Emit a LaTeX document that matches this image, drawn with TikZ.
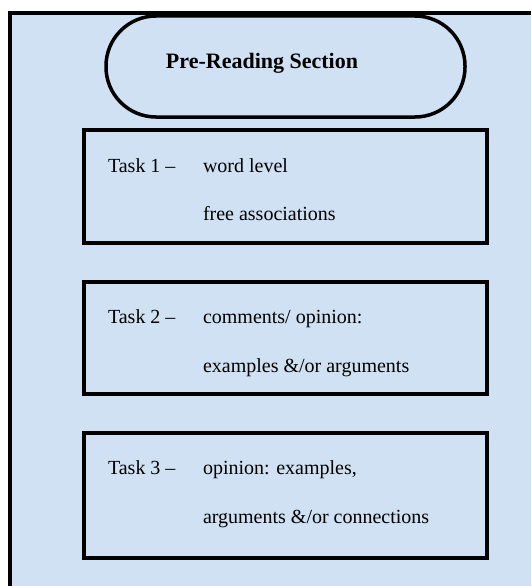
\documentclass[tikz,border=0pt]{standalone}
\usepackage{fontspec}
\setmainfont{Liberation Serif}
\begin{document}
\begin{tikzpicture}[x=1pt,y=-1pt,
  every node/.style={inner sep=0pt,outer sep=0pt},
  pill/.style={draw=black,line width=3.5pt,rounded corners=50pt,minimum width=359pt,minimum height=101pt},
  taskbox/.style={draw=black,line width=3.3pt,minimum width=403pt,anchor=north west},
  txt/.style={font=\fontsize{20}{24}\selectfont,anchor=base west},
  ttl/.style={font=\fontsize{22}{26}\selectfont\bfseries,anchor=base}]
\definecolor{panel}{RGB}{207,225,242}
\useasboundingbox (0,0) rectangle (531,586);
\fill[white] (0,0) rectangle (531,586);
\fill[panel] (10,13) rectangle (531,586);
\draw[line width=4pt] (10,586) -- (10,13) -- (531,13);
% title
\node[pill] (pill) at (285.5,66.5) {};
\node[ttl] (title) at (262,68) {Pre-Reading Section};
% task 1
\node[taskbox,minimum height=113pt] (task1) at (84,130) {};
\node[txt] (t1a) at ([shift={(24,42)}]task1.north west) {Task 1 –};
\node[txt] (t1b) at ([shift={(119,42)}]task1.north west) {word level};
\node[txt] (t1c) at ([shift={(119,90)}]task1.north west) {free associations};
% task 2
\node[taskbox,minimum height=112pt] (task2) at (84,282) {};
\node[txt] (t2a) at ([shift={(24,41)}]task2.north west) {Task 2 –};
\node[txt] (t2b) at ([shift={(119,41)}]task2.north west) {comments/ opinion:};
\node[txt] (t2c) at ([shift={(119,90)}]task2.north west) {examples \&/or arguments};
% task 3
\node[taskbox,minimum height=125pt] (task3) at (84,433) {};
\node[txt] (t3a) at ([shift={(24,41)}]task3.north west) {Task 3 –};
\node[txt] (t3b) at ([shift={(119,41)}]task3.north west) {opinion: examples,};
\node[txt] (t3c) at ([shift={(119,90)}]task3.north west) {arguments \&/or connections};
\end{tikzpicture}
\end{document}
